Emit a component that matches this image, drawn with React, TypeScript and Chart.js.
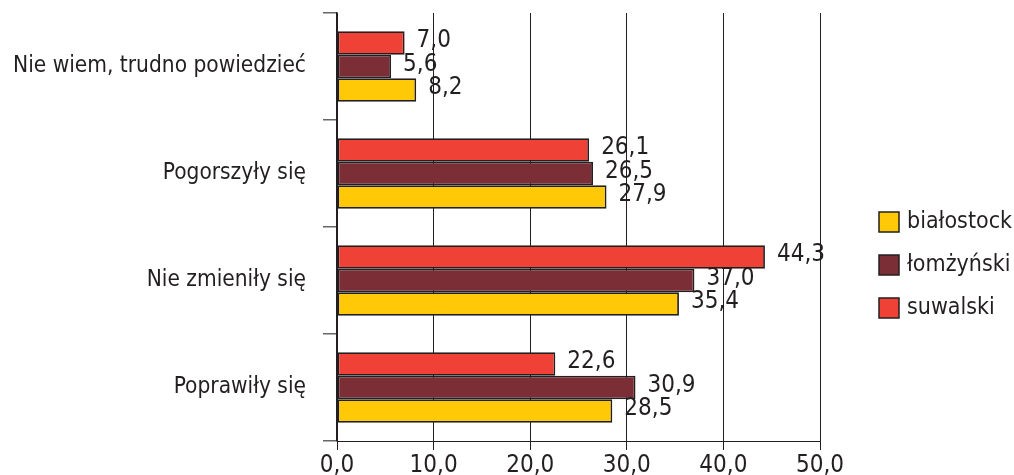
import React, { useEffect, useRef } from "react";
import { Chart, registerables } from "chart.js";

Chart.register(...registerables);

const categories = ["Nie wiem, trudno powiedzieć", "Pogorszyły się", "Nie zmieniły się", "Poprawiły się"];
const suwalski = [7.0, 26.1, 44.3, 22.6];
const lomzynski = [5.6, 26.5, 37.0, 30.9];
const bialostocki = [8.2, 27.9, 35.4, 28.5];
const seriesNames = ["suwalski", "łomżyński", "białostock"];
const seriesColors = ["#EF4136", "#7B2E36", "#FFC907"];
const xMin = 0;
const xMax = 50;
const xStep = 10;

const FONT = "'DejaVu Sans Condensed', 'Liberation Sans Narrow', sans-serif";
const INK = "#231F20";

const fmt = (v: number) => v.toFixed(1).replace(".", ",");

const valueLabels = {
  id: "valueLabels",
  afterDatasetsDraw(chart: any) {
    const ctx = chart.ctx;
    ctx.save();
    ctx.font = `24px ${FONT}`;
    ctx.fillStyle = INK;
    ctx.textAlign = "left";
    ctx.textBaseline = "middle";
    chart.data.datasets.forEach((ds: any, di: number) => {
      const meta = chart.getDatasetMeta(di);
      meta.data.forEach((bar: any, i: number) => {
        ctx.fillText(fmt(ds.data[i]), bar.x + 12, bar.y - 2);
      });
    });
    ctx.restore();
  },
};

const sideLegend = {
  id: "sideLegend",
  afterDraw(chart: any) {
    const ctx = chart.ctx;
    const area = chart.chartArea;
    const ds = chart.data.datasets.slice().reverse();
    const boxX = area.right + 59;
    const gap = 43;
    const startY = 222;
    ctx.save();
    ctx.font = `23px ${FONT}`;
    ctx.textBaseline = "middle";
    ctx.textAlign = "left";
    ds.forEach((d: any, i: number) => {
      const cy = startY + i * gap;
      ctx.fillStyle = d.backgroundColor;
      ctx.fillRect(boxX, cy - 10, 20, 20);
      ctx.strokeStyle = INK;
      ctx.lineWidth = 1.5;
      ctx.strokeRect(boxX, cy - 10, 20, 20);
      ctx.fillStyle = INK;
      ctx.fillText(d.label, boxX + 28, cy);
    });
    ctx.restore();
  },
};

export default function App() {
  const ref = useRef<HTMLCanvasElement | null>(null);
  useEffect(() => {
    if (!ref.current) return;
    const values = [suwalski, lomzynski, bialostocki];
    const chart = new Chart(ref.current, {
      type: "bar",
      data: {
        labels: categories,
        datasets: values.map((v, i) => ({
          label: seriesNames[i],
          data: v,
          backgroundColor: seriesColors[i],
          borderColor: INK,
          borderWidth: 1.8,
          borderSkipped: false,
          barPercentage: 1,
          categoryPercentage: 0.66,
        })),
      },
      options: {
        indexAxis: "y",
        animation: false,
        responsive: false,
        devicePixelRatio: 1,
        layout: { padding: { left: 10, right: 194, top: 13, bottom: 0 } },
        plugins: { legend: { display: false }, tooltip: { enabled: false } },
        scales: {
          x: {
            min: xMin,
            max: xMax,
            ticks: {
              stepSize: xStep,
              color: INK,
              font: { family: FONT, size: 24 },
              padding: 1,
              callback: (v: any) => fmt(Number(v)),
            },
            grid: { color: INK, lineWidth: 1, tickLength: 9, drawTicks: true },
            border: { display: true, color: INK, width: 1 },
            afterFit: (s: any) => {
              s.height = 34;
              s.paddingLeft = 0;
              s.paddingRight = 0;
            },
          },
          y: {
            ticks: {
              color: INK,
              font: { family: FONT, size: 22.5 },
              padding: 17,
            },
            grid: { offset: true, drawOnChartArea: false, tickLength: 14, color: "#666", lineWidth: 1.5 },
            border: { display: true, color: INK, width: 1.5 },
            afterFit: (s: any) => {
              s.width = 327;
              s.paddingTop = 0;
              s.paddingBottom = 0;
            },
          },
        },
      },
      plugins: [valueLabels, sideLegend],
    });
    return () => chart.destroy();
  }, []);
  return (
    <div style={{ position: "absolute", left: 0, top: 0, width: 1014, height: 475, background: "#fff" }}>
      <canvas ref={ref} width={1014} height={475} />
    </div>
  );
}
